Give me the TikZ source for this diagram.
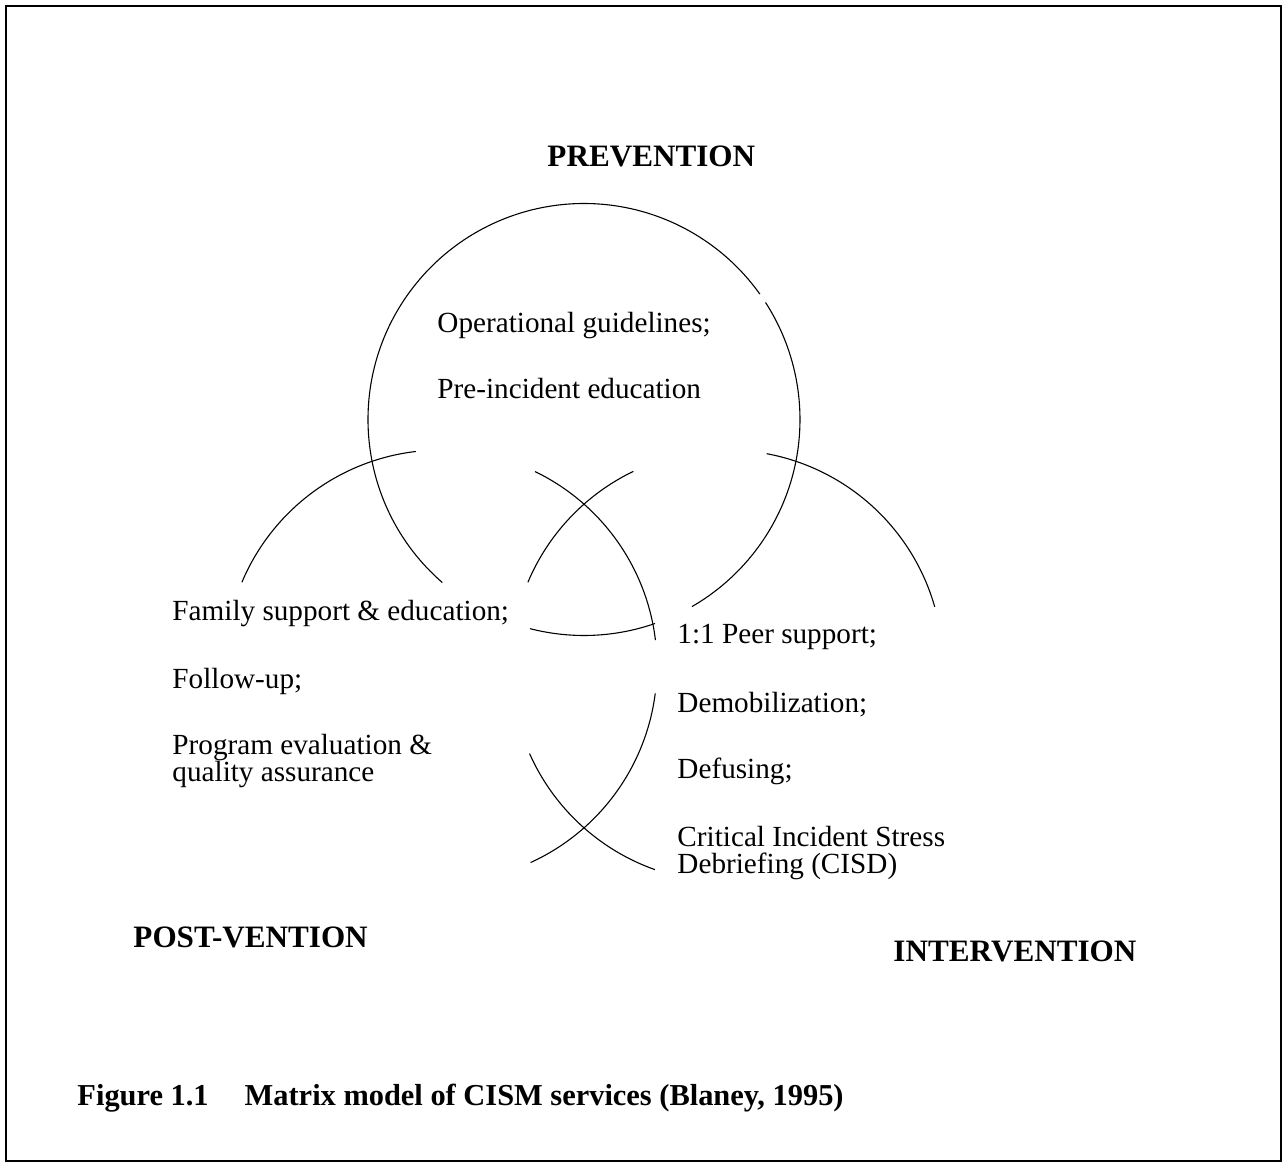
\documentclass[tikz,border=0pt]{standalone}
\usepackage{fontspec}
\setmainfont{Liberation Serif}
\usepackage{tikz}

\begin{document}
\begin{tikzpicture}[x=0.411pt, y=0.411pt,
    ring/.style={line width=0.45pt},
    item/.style={anchor=base west, inner sep=0pt, font=\fontsize{12}{14}\selectfont},
    heading/.style={anchor=base west, inner sep=0pt, font=\fontsize{12.8}{15}\selectfont\bfseries}]

\useasboundingbox (0,0) rectangle (1285,-1166);

% Frame
\draw[line width=0.6pt] (6,-6) rectangle (1281,-1161);

% Circle centres
\coordinate (pre) at (584,-419.5);
\coordinate (post) at (441,-666);
\coordinate (inter) at (727,-666);

% Prevention circle: 3 arcs
\draw[ring] (pre) ++(229:216) arc[start angle=229, end angle=35.5, radius=216];
\draw[ring] (pre) ++(32.8:216) arc[start angle=32.8, end angle=-60, radius=216];
\draw[ring] (pre) ++(255.5:216) arc[start angle=255.5, end angle=289.2, radius=216];

% Post-vention circle: 3 arcs
\draw[ring] (post) ++(157.2:216) arc[start angle=157.2, end angle=96.7, radius=216];
\draw[ring] (post) ++(64.2:216) arc[start angle=64.2, end angle=6.9, radius=216];
\draw[ring] (post) ++(-7.3:216) arc[start angle=-7.3, end angle=-65.5, radius=216];

% Intervention circle: 3 arcs
\draw[ring] (inter) ++(157.2:216) arc[start angle=157.2, end angle=115.7, radius=216];
\draw[ring] (inter) ++(79.4:216) arc[start angle=79.4, end angle=15.9, radius=216];
\draw[ring] (inter) ++(203.9:216) arc[start angle=203.9, end angle=250.5, radius=216];

% Headings
\node[heading] (prevention) at (547,-166) {PREVENTION};
\node[heading] (postvention) at (133,-947) {POST-VENTION};
\node[heading] (intervention) at (893,-961) {INTERVENTION};

% Prevention items
\node[item] (pre1) at (437,-332) {Operational guidelines;};
\node[item] (pre2) at (437,-398) {Pre-incident education};

% Post-vention items
\node[item] (post1) at (172,-620) {Family support \& education;};
\node[item] (post2) at (172,-688) {Follow-up;};
\node[item] (post3) at (172,-754) {Program evaluation \&};
\node[item] (post4) at (172,-781) {quality assurance};

% Intervention items
\node[item] (inter1) at (677,-643) {1:1 Peer support;};
\node[item] (inter2) at (677,-712) {Demobilization;};
\node[item] (inter3) at (677,-778) {Defusing;};
\node[item] (inter4) at (677,-846) {Critical Incident Stress};
\node[item] (inter5) at (677,-873) {Debriefing (CISD)};

% Caption
\node[heading, font=\fontsize{12.5}{15}\selectfont\bfseries] (caption) at (77,-1105)
    {Figure 1.1\hspace{14.8pt}Matrix model of CISM services (Blaney, 1995)};

\end{tikzpicture}
\end{document}
